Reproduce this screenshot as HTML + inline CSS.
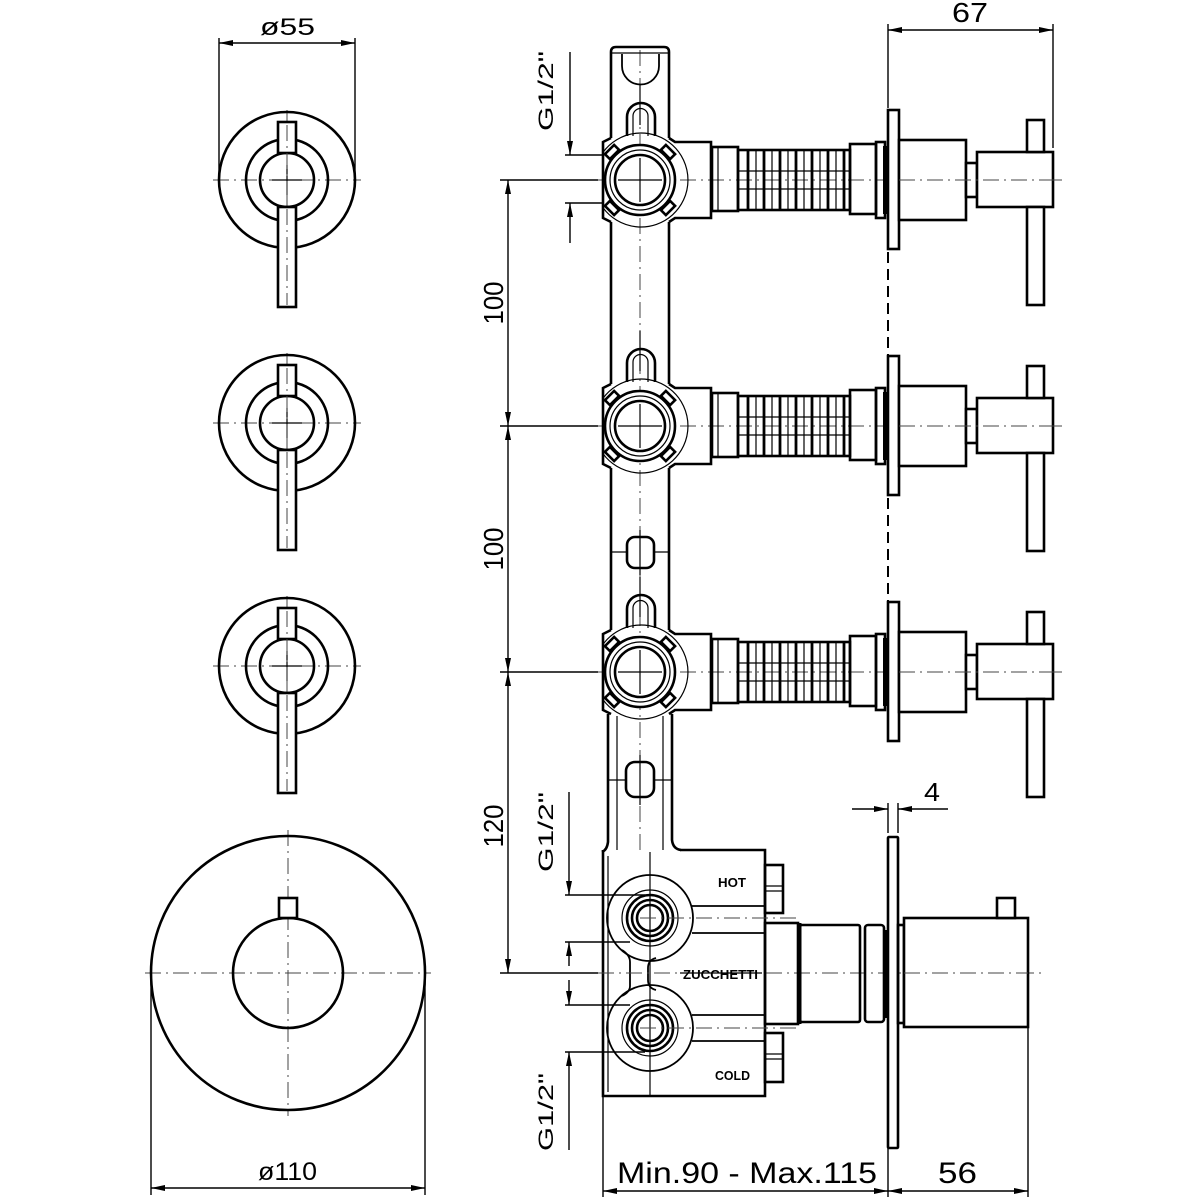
<!DOCTYPE html>
<html><head><meta charset="utf-8"><style>
html,body{margin:0;padding:0;background:#fff;}
svg{display:block;}
.k{stroke:#000;stroke-width:2.6;fill:none;}
.kw{stroke:#000;stroke-width:2.6;fill:#fff;}
.m{stroke:#000;stroke-width:1.8;fill:none;}
.t{stroke:#000;stroke-width:1.2;fill:none;}
.c{stroke:#444;stroke-width:1;fill:none;stroke-dasharray:16 5 2 5;}
.d{stroke:#000;stroke-width:1.4;fill:none;}
.dl{stroke:#000;stroke-width:1.4;fill:none;marker-start:url(#ar);marker-end:url(#ar);}
.de{stroke:#000;stroke-width:1.4;fill:none;marker-end:url(#ar);}
text{font-family:"Liberation Sans",Arial,sans-serif;fill:#000;}
.lb{font-weight:bold;font-size:13px;}
</style></head><body>
<svg width="1200" height="1200" viewBox="0 0 1200 1200" xmlns="http://www.w3.org/2000/svg">
<defs>
<marker id="ar" markerUnits="userSpaceOnUse" markerWidth="14" markerHeight="8" refX="14" refY="4" orient="auto-start-reverse" viewBox="0 0 14 8"><path d="M0,1 L14,4 L0,7 z" fill="#000"/></marker>

<g id="K">
 <line class="c" x1="213" y1="0" x2="361" y2="0"/>
 <line class="c" x1="287" y1="-70" x2="287" y2="70"/>
 <circle class="k" cx="287" cy="0" r="68"/>
 <circle class="k" cx="287" cy="0" r="41"/>
 <circle class="k" cx="287" cy="0" r="27"/>
 <line class="t" x1="272" y1="0" x2="302" y2="0"/>
 <line class="t" x1="287" y1="-15" x2="287" y2="15"/>
 <rect class="kw" x="278" y="-58" width="18" height="31"/>
 <rect class="kw" x="278" y="27" width="18" height="100"/>
 <line class="c" x1="287" y1="-55" x2="287" y2="125"/>
</g>

<g id="V">
 <line class="c" x1="596" y1="0" x2="1062" y2="0"/>
 <!-- body -->
 <path class="k" d="M611,-42 L603,-38 L603,38 L611,42"/>
 <path class="k" d="M669,-42 L675,-38 L711,-38 L711,38 L675,38 L669,42"/>
 <path class="t" d="M603,-27.7 A47,47 0 1,1 603,27.7"/>
 <circle class="kw" cx="640" cy="0" r="35"/>
 <circle class="t" cx="640" cy="0" r="30"/>
 <circle class="k" cx="640" cy="0" r="25"/>
 <line class="t" x1="640" y1="-22" x2="640" y2="22"/>
 <line class="t" x1="618" y1="0" x2="662" y2="0"/>
 <!-- fins -->
 <rect class="kw" x="-3.5" y="-6.5" width="7" height="13" transform="translate(668,-28) rotate(-45)"/>
 <rect class="kw" x="-3.5" y="-6.5" width="7" height="13" transform="translate(612,-28) rotate(45)"/>
 <rect class="kw" x="-3.5" y="-6.5" width="7" height="13" transform="translate(668,28) rotate(45)"/>
 <rect class="kw" x="-3.5" y="-6.5" width="7" height="13" transform="translate(612,28) rotate(-45)"/>
 <!-- top arch -->
 <path class="k" d="M627,-44 L627,-63 A14,14 0 0,1 655,-63 L655,-44"/>
 <path class="t" d="M633,-44 L633,-64 A7.5,7.5 0 0,1 648,-64 L648,-44"/>
 <line class="t" x1="640" y1="-95" x2="640" y2="-55"/>
 <!-- connector -->
 <rect class="k" x="712" y="-33" width="26" height="64"/>
 <line class="t" x1="718" y1="-33" x2="718" y2="31"/>
 <rect class="k" x="738" y="-30" width="112" height="60"/>
 <line class="t" x1="738" y1="-9" x2="850" y2="-9"/>
 <line class="t" x1="738" y1="9" x2="850" y2="9"/>
 <g stroke="#000" stroke-width="2.8">
  <line x1="748" y1="-30" x2="748" y2="30"/><line x1="764" y1="-30" x2="764" y2="30"/>
  <line x1="780" y1="-30" x2="780" y2="30"/><line x1="796" y1="-30" x2="796" y2="30"/>
  <line x1="812" y1="-30" x2="812" y2="30"/><line x1="828" y1="-30" x2="828" y2="30"/>
  <line x1="844" y1="-30" x2="844" y2="30"/>
 </g>
 <g stroke="#000" stroke-width="1.2">
  <line x1="756" y1="-30" x2="756" y2="30"/><line x1="772" y1="-30" x2="772" y2="30"/>
  <line x1="788" y1="-30" x2="788" y2="30"/><line x1="804" y1="-30" x2="804" y2="30"/>
  <line x1="820" y1="-30" x2="820" y2="30"/><line x1="836" y1="-30" x2="836" y2="30"/>
 </g>
 <rect class="k" x="850" y="-36" width="26" height="70"/>
 <rect class="k" x="876" y="-38" width="9" height="76"/>
 <rect x="883" y="-34" width="5" height="68" fill="#000"/>
 <rect class="kw" x="888" y="-70" width="11" height="139"/>
 <!-- handle -->
 <rect class="kw" x="899" y="-40" width="67" height="80"/>
 <rect class="kw" x="966" y="-17" width="11" height="34"/>
 <rect class="kw" x="977" y="-28" width="76" height="55"/>
 <line class="c" x1="899" y1="0" x2="1062" y2="0"/>
 <rect class="kw" x="1027" y="-60" width="17" height="32"/>
 <rect class="kw" x="1027" y="27" width="17" height="98"/>
</g>
</defs>

<rect width="1200" height="1200" fill="#fff"/>

<!-- ===== left knobs ===== -->
<use href="#K" transform="translate(0,180)"/>
<use href="#K" transform="translate(0,423)"/>
<use href="#K" transform="translate(0,666)"/>

<!-- ø55 -->
<line class="d" x1="219" y1="38" x2="219" y2="180"/>
<line class="d" x1="355" y1="38" x2="355" y2="180"/>
<line class="dl" x1="219" y1="43" x2="355" y2="43"/>
<text x="260" y="35" font-size="24" textLength="55" lengthAdjust="spacingAndGlyphs">ø55</text>

<!-- big circle -->
<line class="c" x1="145" y1="973" x2="431" y2="973"/>
<line class="c" x1="288" y1="830" x2="288" y2="1116"/>
<circle class="k" cx="288" cy="973" r="137"/>
<circle class="k" cx="288" cy="973" r="55"/>
<rect class="kw" x="279" y="898" width="18" height="20"/>
<line class="d" x1="151" y1="973" x2="151" y2="1195"/>
<line class="d" x1="425" y1="973" x2="425" y2="1195"/>
<line class="dl" x1="151" y1="1188" x2="425" y2="1188"/>
<text x="258" y="1180" font-size="25" textLength="59" lengthAdjust="spacingAndGlyphs">ø110</text>

<!-- ===== center manifold bar ===== -->
<line class="c" x1="640" y1="50" x2="640" y2="850"/>
<path class="k" d="M611,138 L611,52 Q611,47 616,47 L664,47 Q669,47 669,52 L669,138"/>
<line class="t" x1="611" y1="53" x2="669" y2="53"/>
<path class="m" d="M622,54 L622,66 A18.5,18.5 0 0,0 659,66 L659,54"/>
<line class="k" x1="611" y1="222" x2="611" y2="384"/>
<line class="k" x1="669" y1="222" x2="669" y2="384"/>
<line class="k" x1="611" y1="468" x2="611" y2="630"/>
<line class="k" x1="669" y1="468" x2="669" y2="630"/>

<!-- oval holes -->
<line class="t" x1="611" y1="552" x2="669" y2="552"/>
<rect class="kw" x="627" y="537" width="27" height="31" rx="8"/>
<line class="t" x1="640" y1="530" x2="640" y2="575"/>

<!-- lower bar -->
<path class="k" d="M608,714 L608,842 Q607,850 602,852"/>
<path class="k" d="M672,714 L672,840 Q673,849 681,850"/>
<line class="t" x1="617" y1="716" x2="617" y2="850"/>
<line class="t" x1="663" y1="716" x2="663" y2="850"/>
<line class="t" x1="608" y1="780" x2="672" y2="780"/>
<rect class="kw" x="626" y="762" width="28" height="35" rx="9"/>
<line class="t" x1="640" y1="755" x2="640" y2="805"/>

<!-- valves + handles -->
<use href="#V" transform="translate(0,180)"/>
<use href="#V" transform="translate(0,426)"/>
<use href="#V" transform="translate(0,672)"/>

<!-- dashed wall line -->
<line stroke="#000" stroke-width="2" stroke-dasharray="11 6" x1="888" y1="252" x2="888" y2="356"/>
<line stroke="#000" stroke-width="2" stroke-dasharray="11 6" x1="888" y1="498" x2="888" y2="602"/>

<!-- 67 -->
<line class="d" x1="888" y1="24" x2="888" y2="108"/>
<line class="d" x1="1053" y1="24" x2="1053" y2="148"/>
<line class="dl" x1="888" y1="30" x2="1053" y2="30"/>
<text x="952" y="22" font-size="28" textLength="36" lengthAdjust="spacingAndGlyphs">67</text>

<!-- vertical dims 100/100/120 -->
<line class="d" x1="500" y1="180" x2="598" y2="180"/>
<line class="d" x1="500" y1="426" x2="598" y2="426"/>
<line class="d" x1="500" y1="672" x2="598" y2="672"/>
<line class="d" x1="500" y1="973" x2="598" y2="973"/>
<line class="dl" x1="508" y1="180" x2="508" y2="426"/>
<line class="dl" x1="508" y1="426" x2="508" y2="672"/>
<line class="dl" x1="508" y1="672" x2="508" y2="973"/>
<text transform="translate(503,303) rotate(-90)" text-anchor="middle" font-size="28" textLength="43" lengthAdjust="spacingAndGlyphs">100</text>
<text transform="translate(503,549) rotate(-90)" text-anchor="middle" font-size="28" textLength="43" lengthAdjust="spacingAndGlyphs">100</text>
<text transform="translate(503,826) rotate(-90)" text-anchor="middle" font-size="28" textLength="43" lengthAdjust="spacingAndGlyphs">120</text>

<!-- G1/2 top -->
<line class="d" x1="565" y1="155" x2="603" y2="155"/>
<line class="d" x1="565" y1="203" x2="603" y2="203"/>
<line class="de" x1="570" y1="52" x2="570" y2="155"/>
<line class="de" x1="570" y1="243" x2="570" y2="203"/>
<text transform="translate(553,91) rotate(-90)" text-anchor="middle" font-size="21" textLength="80" lengthAdjust="spacingAndGlyphs">G1/2"</text>

<!-- G1/2 middle & bottom -->
<line class="d" x1="565" y1="895" x2="645" y2="895"/>
<line class="d" x1="565" y1="942" x2="630" y2="942"/>
<line class="de" x1="569" y1="792" x2="569" y2="895"/>
<line class="de" x1="569" y1="966" x2="569" y2="942"/>
<line class="de" x1="569" y1="980" x2="569" y2="1005"/>
<line class="d" x1="565" y1="1005" x2="630" y2="1005"/>
<line class="d" x1="565" y1="1052" x2="645" y2="1052"/>
<line class="de" x1="569" y1="1150" x2="569" y2="1052"/>
<text transform="translate(553,832) rotate(-90)" text-anchor="middle" font-size="21" textLength="80" lengthAdjust="spacingAndGlyphs">G1/2"</text>
<text transform="translate(553,1112) rotate(-90)" text-anchor="middle" font-size="21" textLength="78" lengthAdjust="spacingAndGlyphs">G1/2"</text>

<!-- ===== thermostatic body ===== -->
<path class="k" d="M603,850 L603,1096 L765,1096 L765,850 L680,850"/>
<line class="t" x1="608" y1="856" x2="608" y2="1092"/>
<line class="t" x1="650" y1="852" x2="650" y2="1096"/>
<!-- hot -->
<circle class="m" cx="650" cy="918" r="43"/>
<circle class="t" cx="650" cy="918" r="28"/>
<circle class="k" cx="650" cy="918" r="23"/>
<circle class="k" cx="650" cy="918" r="18"/>
<circle class="k" cx="650" cy="918" r="13"/>
<line class="m" x1="692" y1="906" x2="765" y2="906"/>
<line class="m" x1="692" y1="933" x2="765" y2="933"/>
<line class="c" x1="640" y1="918" x2="800" y2="918"/>
<!-- cold -->
<circle class="m" cx="650" cy="1028" r="43"/>
<circle class="t" cx="650" cy="1028" r="28"/>
<circle class="k" cx="650" cy="1028" r="23"/>
<circle class="k" cx="650" cy="1028" r="18"/>
<circle class="k" cx="650" cy="1028" r="13"/>
<line class="m" x1="692" y1="1015" x2="765" y2="1015"/>
<line class="m" x1="692" y1="1041" x2="765" y2="1041"/>
<line class="c" x1="640" y1="1028" x2="800" y2="1028"/>
<!-- slot between -->
<path class="m" d="M622,950 Q630,955 630,962 L630,986 Q630,992 622,996"/>
<path class="m" d="M656,958 Q648,960 648,968 L648,980 Q648,988 656,990"/>
<!-- centerline zucchetti -->
<line class="c" x1="598" y1="973" x2="1042" y2="973"/>
<line class="t" x1="680" y1="973" x2="762" y2="973"/>
<text class="lb" x="718" y="887" textLength="28" lengthAdjust="spacingAndGlyphs">HOT</text>
<text class="lb" x="683" y="979" textLength="75" lengthAdjust="spacingAndGlyphs">ZUCCHETTI</text>
<text class="lb" x="715" y="1080" textLength="35" lengthAdjust="spacingAndGlyphs">COLD</text>
<!-- side nuts -->
<rect class="k" x="765" y="865" width="18" height="48"/>
<line class="t" x1="765" y1="886" x2="783" y2="886"/>
<line class="t" x1="765" y1="891" x2="783" y2="891"/>
<rect class="k" x="765" y="1033" width="18" height="49"/>
<line class="t" x1="765" y1="1054" x2="783" y2="1054"/>
<line class="t" x1="765" y1="1059" x2="783" y2="1059"/>

<!-- cartridge -->
<rect class="k" x="765" y="923" width="33" height="101"/>
<line stroke="#000" stroke-width="3" x1="800" y1="923" x2="800" y2="1024"/>
<rect class="k" x="800" y="925" width="60" height="97" rx="2"/>
<rect class="k" x="865" y="925" width="19" height="97" rx="3"/>
<rect x="883" y="930" width="5" height="88" fill="#000"/>
<rect class="kw" x="888" y="837" width="10" height="311" rx="1"/>
<rect class="k" x="898" y="925" width="6" height="98"/>
<rect class="kw" x="904" y="918" width="124" height="109"/>
<rect class="kw" x="997" y="898" width="18" height="20"/>
<line class="c" x1="904" y1="973" x2="1028" y2="973"/>

<!-- dim 4 -->
<line class="d" x1="888" y1="803" x2="888" y2="833"/>
<line class="d" x1="898" y1="803" x2="898" y2="833"/>
<line class="de" x1="852" y1="809" x2="888" y2="809"/>
<line class="de" x1="948" y1="809" x2="898" y2="809"/>
<text x="924" y="801" font-size="26" textLength="16" lengthAdjust="spacingAndGlyphs">4</text>

<!-- bottom dims -->
<line class="d" x1="603" y1="1096" x2="603" y2="1197"/>
<line class="d" x1="888" y1="1148" x2="888" y2="1197"/>
<line class="d" x1="1028" y1="1027" x2="1028" y2="1197"/>
<line class="dl" x1="603" y1="1191" x2="888" y2="1191"/>
<line class="dl" x1="888" y1="1191" x2="1028" y2="1191"/>
<text x="617" y="1183" font-size="30" textLength="260" lengthAdjust="spacingAndGlyphs">Min.90 - Max.115</text>
<text x="938" y="1183" font-size="30" textLength="39" lengthAdjust="spacingAndGlyphs">56</text>
</svg>
</body></html>
